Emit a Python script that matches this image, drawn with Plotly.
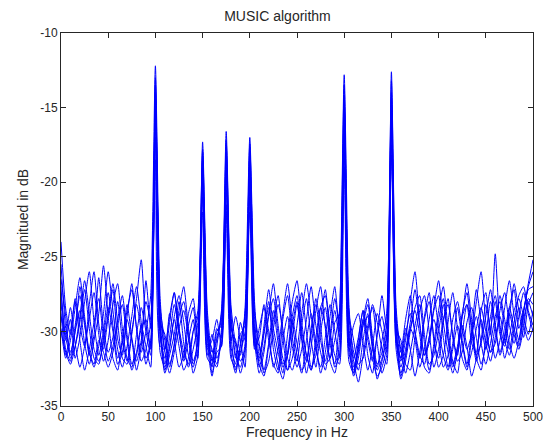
import plotly.graph_objects as go

freq = [i * 5 for i in range(101)]

s1 = [-24.0, -28.5, -30.2, -27.8, -29.6, -31.0, -28.2, -26.0, -29.5, -31.2,
      -29.0, -27.2, -30.5, -31.6, -29.0, -26.8, -29.8, -31.4, -30.0, -27.6,
      -12.2, -27.8, -31.2, -29.0, -27.4, -30.2, -31.8, -29.6, -28.4, -31.0,
      -17.3, -28.6, -31.4, -30.6, -28.8, -16.6, -28.2, -30.8, -31.6, -28.4,
      -17.0, -28.0, -31.6, -30.0, -28.0, -31.2, -32.6, -29.2, -27.6, -30.4,
      -32.0, -29.6, -27.8, -30.6, -32.4, -30.0, -28.4, -30.8, -32.2, -29.0,
      -12.8, -28.2, -31.8, -30.4, -28.6, -31.6, -32.8, -30.2, -29.0, -30.6,
      -12.6, -28.4, -31.4, -29.2, -27.6, -30.2, -31.8, -29.0, -27.4, -30.6,
      -31.8, -29.4, -27.8, -30.4, -31.6, -29.0, -28.2, -30.8, -31.4, -28.6,
      -27.4, -30.2, -24.8, -29.6, -30.8, -28.4, -27.2, -29.8, -28.6, -27.0,
      -26.0]
s2 = [-25.5, -29.8, -31.4, -30.0, -27.0, -29.4, -31.6, -30.2, -26.4, -29.8,
      -31.4, -30.4, -28.0, -30.6, -32.0, -30.0, -27.8, -25.2, -29.6, -31.0,
      -13.0, -29.2, -32.2, -30.4, -28.2, -29.8, -31.4, -32.2, -30.0, -28.6,
      -17.8, -29.4, -32.0, -29.8, -30.4, -17.5, -29.0, -31.8, -30.2, -29.6,
      -17.6, -29.0, -32.4, -31.0, -28.8, -26.8, -29.6, -31.8, -32.6, -30.4,
      -28.2, -30.6, -32.8, -31.0, -28.6, -27.0, -29.8, -31.8, -30.6, -28.6,
      -13.5, -29.6, -32.4, -31.0, -29.2, -27.8, -30.4, -32.2, -31.4, -29.4,
      -13.2, -29.0, -32.0, -30.6, -28.0, -26.0, -29.4, -31.6, -30.8, -28.6,
      -27.6, -30.4, -32.4, -30.8, -28.4, -30.6, -32.2, -30.0, -27.2, -29.4,
      -31.2, -29.8, -28.0, -30.2, -31.0, -29.0, -26.8, -28.6, -30.4, -28.2,
      -27.4]
s3 = [-27.0, -30.6, -29.2, -31.8, -30.4, -28.0, -26.0, -29.4, -31.6, -30.0,
      -27.4, -29.6, -31.8, -30.8, -28.2, -30.4, -32.0, -30.6, -28.0, -29.2,
      -14.0, -28.4, -30.6, -32.4, -30.8, -28.6, -27.0, -29.8, -32.0, -30.8,
      -18.5, -30.0, -31.2, -32.2, -29.8, -18.0, -30.2, -32.6, -31.0, -28.8,
      -18.2, -30.4, -31.8, -29.6, -27.2, -29.8, -31.4, -32.8, -30.2, -28.0,
      -26.6, -29.4, -31.6, -32.6, -30.4, -28.4, -29.6, -32.0, -32.8, -30.6,
      -14.2, -30.8, -33.0, -31.8, -29.6, -28.2, -30.8, -33.2, -32.0, -30.4,
      -14.0, -30.4, -32.8, -31.6, -29.8, -28.6, -30.2, -32.4, -32.8, -30.8,
      -28.6, -27.0, -29.8, -32.0, -32.8, -30.2, -28.2, -29.6, -31.8, -32.6,
      -30.4, -28.0, -29.6, -31.4, -30.2, -28.4, -29.8, -31.0, -29.2, -28.0,
      -29.0]
s4 = [-28.0, -31.2, -32.0, -30.0, -28.6, -30.8, -32.2, -30.6, -28.8, -25.6,
      -29.0, -31.8, -32.6, -30.4, -28.6, -27.2, -29.8, -32.0, -31.2, -29.4,
      -14.5, -29.6, -32.6, -31.2, -29.0, -27.6, -29.4, -31.6, -32.4, -30.2,
      -19.5, -29.2, -32.8, -31.4, -31.0, -19.0, -31.0, -32.2, -29.4, -30.6,
      -19.2, -29.8, -32.2, -33.0, -31.0, -29.2, -27.6, -30.4, -32.6, -31.8,
      -29.6, -27.4, -30.0, -32.4, -31.6, -29.2, -27.2, -30.0, -31.6, -32.2,
      -15.0, -29.0, -31.4, -32.6, -30.6, -28.8, -31.0, -32.4, -30.6, -28.8,
      -15.5, -29.6, -33.2, -32.0, -30.0, -28.4, -27.6, -30.2, -32.2, -31.6,
      -30.0, -28.2, -30.6, -32.4, -31.2, -29.0, -26.8, -29.2, -31.6, -30.8,
      -29.0, -27.2, -29.8, -31.6, -30.4, -28.8, -30.2, -31.2, -29.8, -27.8,
      -28.2]
s5 = [-29.0, -30.2, -28.4, -30.8, -32.4, -31.0, -29.2, -27.4, -30.2, -32.0,
      -30.6, -28.2, -26.8, -29.8, -31.8, -32.4, -30.2, -28.4, -30.0, -31.6,
      -15.4, -30.4, -31.8, -29.4, -27.4, -29.8, -32.0, -30.6, -29.2, -31.8,
      -20.0, -30.8, -33.0, -31.0, -28.6, -20.5, -29.6, -31.0, -32.8, -31.4,
      -20.0, -31.0, -30.4, -28.2, -30.0, -32.4, -31.2, -28.8, -26.8, -29.4,
      -31.6, -32.8, -30.6, -28.8, -30.8, -32.8, -31.4, -29.0, -27.0, -30.0,
      -16.0, -30.2, -32.0, -33.4, -31.6, -29.6, -28.4, -30.8, -32.8, -31.6,
      -16.5, -30.8, -31.8, -29.8, -31.2, -33.0, -31.4, -29.2, -28.0, -30.4,
      -32.4, -31.6, -29.4, -27.4, -29.8, -31.8, -32.6, -30.4, -28.0, -26.0,
      -29.4, -31.4, -30.8, -28.6, -27.4, -29.6, -30.8, -29.0, -27.4, -28.8,
      -30.0]
s6 = [-26.5, -29.0, -31.8, -31.0, -29.4, -27.2, -29.8, -31.8, -32.2, -30.4,
      -28.4, -30.0, -32.2, -31.4, -29.2, -30.6, -32.6, -31.0, -26.6, -29.8,
      -16.0, -31.0, -31.2, -28.8, -30.6, -32.4, -31.6, -28.8, -27.8, -30.6,
      -18.0, -30.2, -32.4, -30.0, -29.6, -18.5, -29.8, -30.6, -32.0, -31.2,
      -21.0, -30.6, -32.8, -31.4, -29.0, -27.8, -30.2, -32.2, -31.6, -29.6,
      -28.0, -30.4, -32.0, -30.2, -27.8, -29.6, -32.2, -31.8, -29.4, -28.8,
      -17.0, -30.4, -32.8, -31.2, -29.2, -30.6, -32.0, -30.2, -27.6, -29.8,
      -14.5, -29.2, -31.2, -32.8, -31.4, -29.6, -28.2, -30.8, -32.6, -31.2,
      -29.2, -27.8, -30.4, -32.2, -31.0, -28.8, -27.4, -30.0, -32.0, -30.6,
      -28.2, -30.0, -31.8, -30.6, -28.4, -26.6, -29.0, -30.6, -28.8, -26.8,
      -25.2]
s7 = [-28.8, -31.6, -30.0, -28.0, -30.6, -32.6, -31.2, -29.4, -27.8, -30.4,
      -32.0, -31.0, -29.2, -27.6, -30.2, -32.2, -31.4, -29.6, -31.0, -32.4,
      -13.5, -30.0, -32.8, -31.6, -30.2, -28.0, -30.8, -32.4, -31.2, -29.4,
      -21.0, -31.6, -30.2, -31.8, -30.8, -21.5, -30.6, -29.0, -30.6, -32.4,
      -18.8, -30.2, -31.0, -32.6, -30.8, -28.6, -30.8, -32.4, -31.6, -29.0,
      -27.6, -30.0, -31.6, -32.6, -31.0, -28.4, -27.6, -30.2, -32.4, -31.6,
      -14.8, -28.8, -30.6, -32.2, -31.8, -30.0, -28.2, -29.4, -31.2, -32.2,
      -17.5, -30.0, -32.4, -31.2, -29.4, -27.2, -29.6, -31.6, -30.4, -28.4,
      -26.6, -29.4, -31.4, -32.8, -31.4, -29.6, -31.0, -33.0, -31.8, -29.2,
      -30.8, -32.0, -30.4, -29.0, -30.6, -31.6, -30.0, -28.4, -29.6, -30.6,
      -29.8]
s8 = [-30.0, -31.4, -32.2, -31.0, -29.0, -26.6, -28.8, -31.2, -32.0, -30.8,
      -28.8, -26.8, -29.4, -31.8, -32.2, -30.2, -28.2, -30.0, -32.2, -30.6,
      -17.0, -29.4, -30.2, -32.2, -31.0, -29.0, -28.0, -30.2, -32.2, -31.2,
      -19.0, -30.4, -31.8, -32.4, -30.2, -19.5, -31.4, -32.8, -30.8, -29.0,
      -22.0, -31.2, -29.8, -28.4, -30.6, -32.2, -32.8, -30.6, -29.0, -31.0,
      -32.4, -31.2, -29.2, -27.0, -29.6, -31.4, -32.6, -30.6, -28.6, -30.4,
      -18.0, -31.0, -29.6, -28.8, -30.8, -32.6, -31.0, -28.8, -30.0, -31.4,
      -15.2, -29.8, -30.6, -32.2, -32.6, -30.4, -28.6, -27.6, -30.0, -32.4,
      -31.2, -29.2, -28.2, -30.2, -32.0, -31.4, -29.4, -28.4, -30.4, -32.2,
      -31.0, -29.0, -27.6, -29.8, -31.8, -30.4, -28.6, -27.8, -29.0, -30.2,
      -28.6]
s9 = [-27.5, -30.4, -31.6, -29.6, -27.6, -29.6, -31.4, -32.4, -31.0, -28.8,
      -26.0, -28.6, -31.2, -32.4, -31.0, -29.0, -27.0, -29.4, -31.8, -30.8,
      -15.0, -28.8, -31.4, -32.8, -31.4, -29.8, -28.6, -30.4, -32.8, -31.6,
      -22.0, -31.8, -32.2, -30.4, -29.2, -17.2, -28.8, -31.6, -32.4, -30.8,
      -19.8, -30.8, -32.0, -30.2, -28.4, -30.4, -32.2, -33.2, -31.4, -29.2,
      -30.8, -32.6, -32.0, -29.8, -28.2, -30.6, -32.0, -30.2, -27.8, -29.6,
      -16.5, -31.4, -32.6, -31.4, -29.6, -29.0, -31.2, -32.6, -31.8, -30.2,
      -18.2, -31.2, -33.0, -31.6, -29.8, -30.6, -32.4, -31.2, -29.2, -27.6,
      -29.8, -31.6, -32.6, -31.2, -29.6, -30.8, -32.4, -31.4, -29.8, -28.4,
      -30.0, -31.4, -29.6, -27.6, -29.2, -30.8, -31.8, -30.6, -28.6, -27.2,
      -27.0]
s10 = [-29.8, -31.8, -30.6, -28.4, -26.4, -29.0, -31.4, -32.2, -30.6, -31.4,
       -32.4, -31.4, -29.6, -28.2, -30.6, -32.6, -31.6, -29.8, -29.2, -31.2,
       -18.5, -31.4, -32.4, -31.0, -29.2, -31.0, -32.6, -31.8, -30.0, -29.0,
       -20.5, -31.2, -30.6, -29.2, -31.0, -22.0, -31.8, -32.4, -31.4, -30.0,
       -17.4, -28.6, -30.8, -32.8, -32.0, -29.8, -28.2, -29.8, -31.8, -32.6,
       -31.2, -28.8, -26.8, -29.0, -31.2, -32.4, -30.4, -28.2, -30.0, -31.8,
       -19.0, -32.0, -32.8, -30.6, -28.6, -30.2, -31.8, -33.0, -32.4, -31.0,
       -16.0, -30.2, -31.8, -30.2, -28.8, -30.0, -31.6, -32.2, -30.4, -29.2,
       -30.6, -32.4, -31.6, -29.2, -28.0, -29.8, -31.2, -30.2, -29.0, -30.8,
       -32.2, -30.8, -29.0, -28.0, -29.8, -31.2, -29.4, -27.6, -27.0, -28.6,
       -29.6]

series = [s1, s2, s3, s4, s5, s6, s7, s8, s9, s10]

x_ticks = [0, 50, 100, 150, 200, 250, 300, 350, 400, 450, 500]
y_ticks = [-35, -30, -25, -20, -15, -10]

fig = go.Figure()
for s in series:
    fig.add_trace(go.Scatter(
        x=freq, y=s, mode="lines",
        line=dict(color="#0000ff", width=1, shape="spline", smoothing=0.6),
        showlegend=False, hoverinfo="skip"))

font_family = "Liberation Sans, Arial, sans-serif"
axis_common = dict(
    showline=True, linecolor="#262626", linewidth=1, mirror="ticks",
    ticks="inside", ticklen=5, tickcolor="#262626", tickwidth=1,
    showgrid=False, zeroline=False,
    tickfont=dict(family=font_family, size=12, color="#262626"),
)

fig.update_layout(
    width=555, height=448,
    margin=dict(l=61, r=16, t=33, b=41),
    paper_bgcolor="white", plot_bgcolor="white",
    font=dict(family=font_family, size=13, color="#262626"),
    title=dict(text="MUSIC algorithm", x=0.5, xanchor="center",
               y=1 - 16 / 448, yanchor="middle", yref="container",
               font=dict(size=14, family=font_family, color="#262626")),
    xaxis=dict(range=[0, 500], tickvals=x_ticks, ticktext=[str(v) for v in x_ticks],
               title=dict(text="Frequency in Hz", standoff=2,
                          font=dict(size=14, family=font_family)),
               **axis_common),
    yaxis=dict(range=[-35, -10], tickvals=y_ticks, ticktext=[str(v) for v in y_ticks],
               title=dict(text="Magnitued in dB", standoff=8,
                          font=dict(size=14, family=font_family)),
               **axis_common),
)

fig.write_html("out.html")
